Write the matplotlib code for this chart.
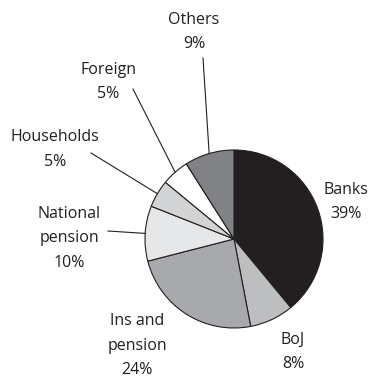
import numpy as np
import matplotlib
matplotlib.use("Agg")
import matplotlib.pyplot as plt

# Holders of government debt (shares, %)
holders = ["Banks", "BoJ", "Ins and\npension", "National\npension", "Households", "Foreign", "Others"]
shares = [39, 8, 24, 10, 5, 5, 9]
colors = ["#231f20", "#bcbec0", "#a7a9ac", "#e6e7e8", "#d1d3d4", "#ffffff", "#808285"]

# label anchor (x, y in pixel-like coordinates, y measured from top), and leader start (None = no leader)
label_pos = [(346, 190), (293, 340), (137, 321), (69, 214), (55, 137), (108, 70), (194, 20)]
leader_start = [None, None, None, (108, 231), (91, 153), (133, 89), (203, 58)]

W, H = 369, 377
fig = plt.figure(figsize=(W / 100, H / 100), dpi=100)
ax = fig.add_axes([0, 0, 1, 1])

cx, cy, r = 234, H - 239, 89
wedges, _ = ax.pie(shares, colors=colors, startangle=90, counterclock=False,
                   center=(cx, cy), radius=r, frame=True,
                   wedgeprops=dict(edgecolor="#231f20", linewidth=0.8))
ax.set_xlim(0, W)
ax.set_ylim(0, H)
ax.set_aspect("equal")
ax.axis("off")

font = dict(family="Open Sans", size=11.5, color="#231f20")
for name, val, (lx, ly), start, w in zip(holders, shares, label_pos, leader_start, wedges):
    lines = name.split("\n") + [f"{val}%"]
    for i, t in enumerate(lines):
        ax.text(lx, H - (ly + 24.5 * i), t, ha="center", va="center", **font)
    if start is not None:
        mid = np.deg2rad((w.theta1 + w.theta2) / 2)
        ex, ey = cx + r * np.cos(mid), cy + r * np.sin(mid)
        ax.plot([start[0], ex], [H - start[1], ey], color="#231f20", lw=0.8)

fig.savefig("out.png", dpi=100)
